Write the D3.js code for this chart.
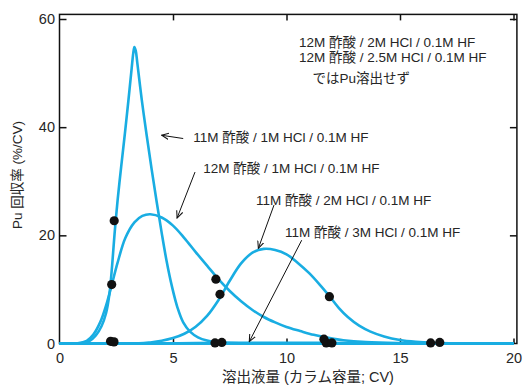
<!DOCTYPE html>
<html><head><meta charset="utf-8">
<script src="https://cdn.jsdelivr.net/npm/d3@7"></script>
<style>
body{margin:0;background:#fff}
text{font-family:"Liberation Sans",Arial,"Noto Sans CJK JP",sans-serif;fill:#262626}
</style>
</head><body>
<svg id="c" width="523" height="385"></svg>
<script>
// ---- data ----
const xTicks = [0, 5, 10, 15, 20];
const yTicks = [0, 20, 40, 60];
const seriesNames = [
  "11M 酢酸 / 1M HCl / 0.1M HF",
  "12M 酢酸 / 1M HCl / 0.1M HF",
  "11M 酢酸 / 2M HCl / 0.1M HF",
  "11M 酢酸 / 3M HCl / 0.1M HF",
  "12M 酢酸 / 2M HCl / 0.1M HF",
  "12M 酢酸 / 2.5M HCl / 0.1M HF"
];
const curve11M1M = [[0,0],[0.9,0.02],[1.3,0.4],[1.6,1.5],[1.85,3.2],[2.05,5.6],[2.2,9.2],[2.32,14.5],[2.43,20.5],[2.56,26.5],[2.72,32.8],[2.88,38.8],[3.03,44.7],[3.18,50.9],[3.25,53.7],[3.3,54.8],[3.36,54.1],[3.43,51.8],[3.62,45.2],[3.84,38.5],[4.06,32.2],[4.28,26.2],[4.5,20.5],[4.72,15.2],[4.95,10.6],[5.2,6.6],[5.45,3.9],[5.75,2.2],[6.1,1.15],[6.5,0.55],[7.0,0.22],[7.6,0.07],[8.5,0.01],[20,0]];
const curve12M1M = [[0,0],[0.8,0.03],[1.2,0.5],[1.5,1.7],[1.8,4.0],[2.05,7.0],[2.3,10.8],[2.55,14.8],[2.9,19.5],[3.3,22.4],[3.65,23.6],[4.0,23.9],[4.5,23.3],[5.0,21.8],[5.5,19.5],[6.0,16.9],[6.5,14.4],[7.0,11.9],[7.5,9.7],[8.0,7.8],[8.5,6.2],[9.0,4.9],[9.5,3.9],[10.0,3.05],[10.6,2.3],[11.2,1.6],[11.9,1.0],[12.5,0.6],[13.5,0.25],[15,0.07],[16.5,0.02],[20,0]];
const curve11M2M = [[0,0],[3.5,0.02],[4.0,0.2],[4.5,0.5],[5.0,1.0],[5.5,1.8],[6.0,3.1],[6.5,5.1],[7.0,8.0],[7.5,11.6],[8.0,14.8],[8.5,16.8],[9.0,17.5],[9.5,17.3],[10.0,16.5],[10.5,14.9],[11.0,13.0],[11.5,10.7],[11.9,8.7],[12.3,6.6],[12.7,4.9],[13.2,3.3],[13.7,2.2],[14.3,1.3],[15.0,0.65],[15.7,0.32],[16.5,0.13],[17.5,0.04],[20,0]];
const curve11M3M = [[0,0],[4,0.03],[6,0.08],[8.3,0.15],[10.5,0.15],[12.5,0.1],[14.5,0.04],[17,0.01],[20,0]];
const curve12M2M = [[0,0],[20,0]];
const curve12M25M = [[0,0],[20,0]];
const measuredX = [2.30, 2.41, 2.25, 2.40, 6.89, 7.07, 6.85, 7.15, 11.89, 11.65, 11.75, 12.0, 16.35, 16.75];
const measuredY = [10.9, 22.7, 0.4, 0.3, 11.9, 9.1, 0.1, 0.2, 8.65, 0.8, 0.1, 0.1, 0.1, 0.2];
const noteLines = ["12M 酢酸 / 2M HCl / 0.1M HF", "12M 酢酸 / 2.5M HCl / 0.1M HF", "ではPu溶出せず"];
const xLabel = "溶出液量 (カラム容量; CV)";
const yLabel = "Pu 回収率 (%/CV)";

// ---- layout ----
const svg = d3.select("#c");
const x = d3.scaleLinear().domain([0, 20]).range([59.5, 513.5]);
const y = d3.scaleLinear().domain([0, 60]).range([343.5, 19]);
const blue = "#19ade2";

// frame
svg.append("rect").attr("x", x(0)).attr("y", y(60.85)).attr("width", x(20.15) - x(0)).attr("height", y(0) - y(60.85))
  .attr("fill", "none").attr("stroke", "#111").attr("stroke-width", 1.5);

function styleAxis(g){ g.select(".domain").remove(); g.selectAll(".tick line").attr("stroke","#111").attr("stroke-width",1.5); g.selectAll("text").attr("fill","#262626").style("font-size","14.5px").style("font-family","Liberation Sans, Arial, sans-serif"); }
svg.append("g").attr("transform", `translate(${x(0)},0)`)
  .call(d3.axisLeft(y).tickValues(yTicks).tickSize(-7).tickPadding(4.5)).call(styleAxis);
svg.append("g").attr("transform", `translate(0,${y(0)})`)
  .call(d3.axisBottom(x).tickValues(xTicks).tickSize(-5).tickPadding(9)).call(styleAxis);
svg.append("g").attr("transform", `translate(0,${y(60.85)})`)
  .call(d3.axisTop(x).tickValues(xTicks.slice(1)).tickSize(-6).tickFormat("")).call(styleAxis);
svg.append("g").attr("transform", `translate(${x(20.15)},0)`)
  .call(d3.axisRight(y).tickValues(yTicks.slice(1)).tickSize(-7).tickFormat("")).call(styleAxis);
svg.selectAll(".tick").filter(d => d === 0).select("line").remove();

// curves
const line = d3.line().x(d => x(d[0])).y(d => y(d[1])).curve(d3.curveCatmullRom.alpha(0.5));
[curve12M2M, curve12M25M, curve11M3M, curve11M2M, curve12M1M, curve11M1M].forEach(c => {
  svg.append("path").attr("d", line(c)).attr("fill", "none").attr("stroke", blue).attr("stroke-width", 2.6);
});

// measured points
svg.append("g").selectAll("circle").data(measuredX).join("circle")
  .attr("cx", d => x(d)).attr("cy", (d, i) => y(measuredY[i])).attr("r", 4.6).attr("fill", "#111");

// arrows
const defs = svg.append("defs");
defs.append("marker").attr("id", "ah").attr("viewBox", "0 -5 10 10").attr("refX", 9).attr("refY", 0)
  .attr("markerWidth", 8).attr("markerHeight", 8).attr("markerUnits", "userSpaceOnUse").attr("orient", "auto")
  .append("path").attr("d", "M0,-4L9,0L0,4").attr("fill", "none").attr("stroke", "#111").attr("stroke-width", 1.3);
const arrowLayout = [
  [5.45, 37.9, 4.50, 38.5],
  [5.97, 31.7, 5.18, 23.2],
  [9.45, 25.6, 8.76, 17.6],
  [10.67, 19.1, 8.36, 0.35]
];
arrowLayout.forEach(a => {
  svg.append("line").attr("x1", x(a[0])).attr("y1", y(a[1])).attr("x2", x(a[2])).attr("y2", y(a[3]))
    .attr("stroke", "#111").attr("stroke-width", 1).attr("marker-end", "url(#ah)");
});

// series labels
const labelLayout = [
  [0, 5.89, 37.3],
  [1, 6.33, 31.5],
  [2, 8.66, 25.6],
  [3, 9.93, 19.7]
];
labelLayout.forEach(l => {
  svg.append("text").attr("x", x(l[1])).attr("y", y(l[2])).style("font-size", "13.5px").text(seriesNames[l[0]]);
});
const noteLayout = [[10.55, 54.9], [10.55, 52.1], [11.15, 48.2]];
noteLines.forEach((t, i) => {
  svg.append("text").attr("x", x(noteLayout[i][0])).attr("y", y(noteLayout[i][1])).style("font-size", "13.5px").text(t);
});

// axis titles
svg.append("text").attr("x", 222).attr("y", 382).style("font-size", "14.5px").text(xLabel);
svg.append("text").attr("transform", "translate(22,175) rotate(-90)").attr("text-anchor", "middle")
  .style("font-size", "13.5px").text(yLabel);
</script>
</body></html>
